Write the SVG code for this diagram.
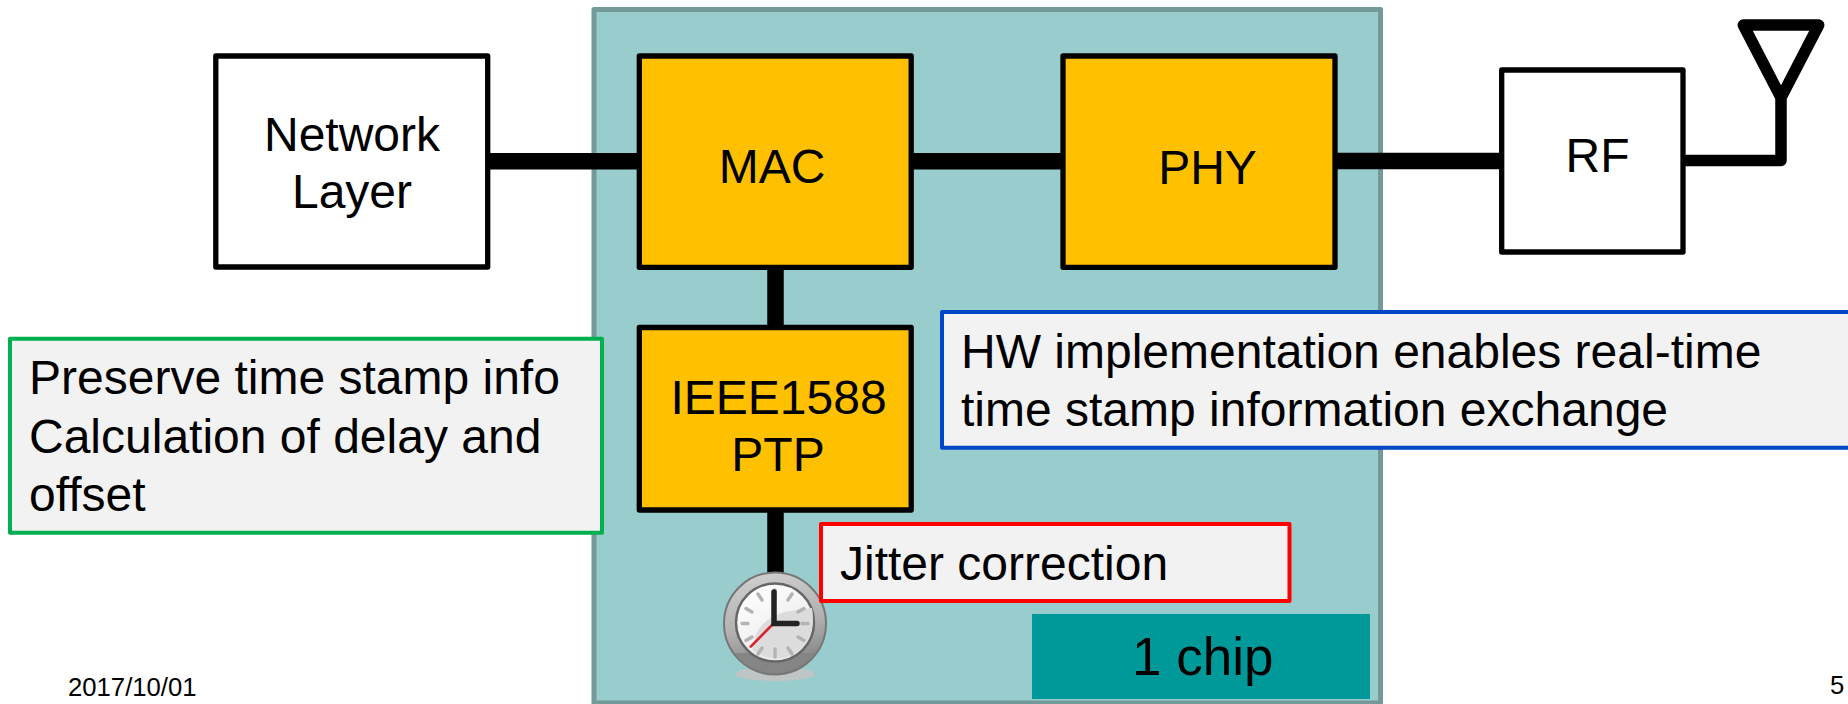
<svg xmlns="http://www.w3.org/2000/svg" width="1848" height="704" viewBox="0 0 1848 704">
<style>
text{font-family:"Liberation Sans",Arial,sans-serif;fill:#000}
.t{font-size:48px}
.m{text-anchor:middle}
.b{stroke:#000;stroke-width:5.3;stroke-linejoin:round}
.o{fill:#FFC000}
.w{fill:#fff}
.n{fill:#F2F2F2;stroke-width:4;stroke-linejoin:round}
.c{stroke:#000;fill:none;stroke-width:16.5}
.k{stroke:#b3b3b3;stroke-width:3.4;stroke-linecap:round}
</style>
<defs>
<linearGradient id="rim" x1="0.3" y1="0" x2="0.5" y2="1"><stop offset="0" stop-color="#cfcfcf"/><stop offset="0.55" stop-color="#b0b0b0"/><stop offset="1" stop-color="#7d7d7d"/></linearGradient>
<linearGradient id="face" x1="0.2" y1="0" x2="0.8" y2="1"><stop offset="0" stop-color="#fff"/><stop offset="1" stop-color="#e6e6e6"/></linearGradient>
</defs>
<rect width="1848" height="704" fill="#fff"/>
<g id="chip"><rect x="594" y="9.5" width="786.500" height="693.500" fill="#99CCCC" stroke="#739A99" stroke-width="5" stroke-linejoin="round"/></g>
<g id="connectors">
<path class="c" d="M488 161.300H640M911 161.300H1063M1335 161H1502"/>
<path class="c" d="M775.500 267V328M775.500 509V575"/>
<path d="M1683 160.500H1781V97.700L1743.300 25H1818.700L1781 97.700" fill="none" stroke="#000" stroke-width="11.500" stroke-linejoin="round"/>
</g>
<g id="network"><rect class="b w" x="215.800" y="56" width="271.900" height="211"/><text class="t m" x="352" y="151">Network</text><text class="t m" x="352" y="208.300">Layer</text></g>
<g id="mac"><rect class="b o" x="639.300" y="56" width="271.900" height="211.300"/><text class="t m" x="772" y="182.700">MAC</text></g>
<g id="phy"><rect class="b o" x="1063" y="56" width="272" height="211.300"/><text class="t m" x="1207.500" y="184">PHY</text></g>
<g id="rf"><rect class="b w" x="1501.700" y="70" width="181.300" height="182"/><text class="t m" x="1597.500" y="171.700">RF</text></g>
<g id="ptp"><rect class="b o" x="639.300" y="327.500" width="271.900" height="182.500"/><text class="t m" x="778.500" y="414">IEEE1588</text><text class="t m" x="778" y="470.700">PTP</text></g>
<g id="clock">
<ellipse cx="775" cy="674" rx="40" ry="7" fill="#bfc4c4"/>
<circle cx="775" cy="623.500" r="51" fill="url(#rim)" stroke="#777" stroke-width="2"/>
<path d="M735 653A50 50 0 0 0 815 653Z" fill="#858585"/>
<circle cx="775" cy="622.500" r="39" fill="url(#face)" stroke="#666" stroke-width="2.500"/>
<path d="M755 637Q762 618 785 612Q800 609 812 608Q817 636 797 652Q775 666 752 650Z" fill="#dcdcdc"/>
<path class="k" d="M775 598V590M762 600L758 594M788 600L792 594M752 612L746 608.500M798 612L804 608.500M748 623.500H742M802 623.500H808M752 637L746 640.500M798 637L804 640.500M762 648L758 654M788 648L792 654M775 649V657"/>
<path d="M774 623L750 647.300" stroke="#D8232A" stroke-width="2.500" fill="none"/>
<path d="M774 592V623.500H797" stroke="#222" stroke-width="5.500" fill="none" stroke-linecap="round" stroke-linejoin="miter"/>
</g>
<g id="note-green"><rect class="n" x="10" y="338.700" width="592" height="194" stroke="#00B050"/><text class="t" x="29" y="394">Preserve time stamp info</text><text class="t" x="29" y="452.500">Calculation of delay and</text><text class="t" x="29" y="510.500">offset</text></g>
<g id="note-blue"><rect class="n" x="942" y="312" width="910" height="135.700" stroke="#0047C8"/><text class="t" x="961" y="367.700">HW implementation enables real-time</text><text class="t" x="961" y="425.700">time stamp information exchange</text></g>
<g id="note-red"><rect class="n" x="821" y="524" width="468.500" height="77" stroke="#F00"/><text class="t" x="840" y="579.500">Jitter correction</text></g>
<g id="label"><rect x="1032" y="614" width="338" height="85" fill="#009999"/><text x="1132" y="675" font-size="53">1 chip</text></g>
<text x="68" y="695.500" font-size="25.700">2017/10/01</text>
<text x="1830" y="694" font-size="25.700">5</text>
</svg>
